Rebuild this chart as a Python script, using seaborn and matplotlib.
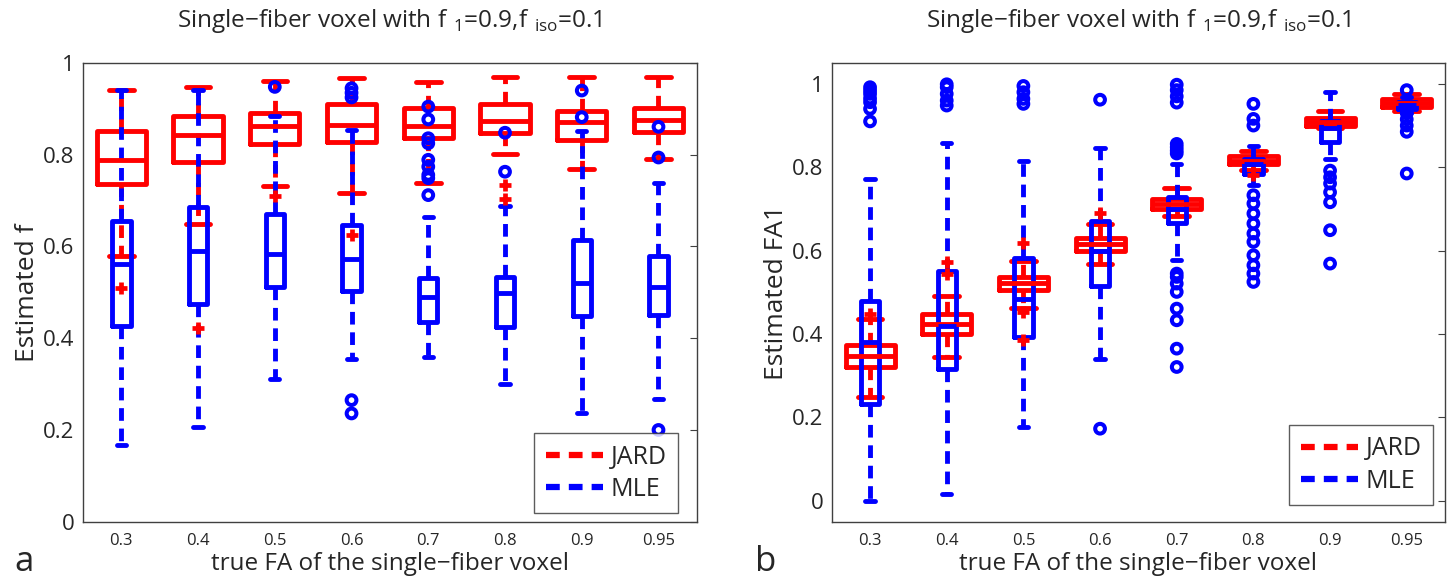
import numpy as np
import pandas as pd
import matplotlib
matplotlib.use("Agg")
import matplotlib.pyplot as plt
from matplotlib.lines import Line2D
import seaborn as sns

# categories (true FA of the single-fiber voxel)
fa_labels = ["0.3", "0.4", "0.5", "0.6", "0.7", "0.8", "0.9", "0.95"]

# panel a: estimated f -- five-number summaries
f_jard_lo = [0.579, 0.648, 0.732, 0.717, 0.739, 0.801, 0.768, 0.791]
f_jard_q1 = [0.736, 0.785, 0.823, 0.828, 0.836, 0.848, 0.832, 0.850]
f_jard_med = [0.789, 0.843, 0.863, 0.865, 0.862, 0.874, 0.872, 0.876]
f_jard_q3 = [0.852, 0.884, 0.892, 0.910, 0.903, 0.911, 0.896, 0.901]
f_jard_hi = [0.942, 0.947, 0.960, 0.967, 0.959, 0.969, 0.970, 0.970]
f_jard_out = [[0.509], [0.422], [0.709], [0.624], [], [0.734, 0.703], [], []]

f_mle_lo = [0.167, 0.207, 0.310, 0.355, 0.360, 0.300, 0.236, 0.267]
f_mle_q1 = [0.427, 0.475, 0.512, 0.504, 0.436, 0.425, 0.448, 0.451]
f_mle_med = [0.562, 0.590, 0.584, 0.573, 0.489, 0.498, 0.521, 0.511]
f_mle_q3 = [0.656, 0.685, 0.670, 0.647, 0.531, 0.533, 0.614, 0.579]
f_mle_hi = [0.941, 0.941, 0.884, 0.855, 0.665, 0.688, 0.852, 0.739]
f_mle_out = [[], [], [0.948], [0.945, 0.935, 0.925, 0.265, 0.236],
             [0.905, 0.877, 0.836, 0.825, 0.789, 0.774, 0.756, 0.749, 0.712],
             [0.848, 0.763], [0.940, 0.882], [0.861, 0.794, 0.200]]

# panel b: estimated FA1
fa_jard_lo = [0.248, 0.344, 0.463, 0.567, 0.682, 0.793, 0.893, 0.936]
fa_jard_q1 = [0.320, 0.401, 0.505, 0.599, 0.701, 0.807, 0.900, 0.944]
fa_jard_med = [0.347, 0.425, 0.522, 0.617, 0.713, 0.816, 0.909, 0.955]
fa_jard_q3 = [0.373, 0.449, 0.538, 0.630, 0.725, 0.826, 0.919, 0.964]
fa_jard_hi = [0.437, 0.491, 0.574, 0.665, 0.751, 0.840, 0.936, 0.976]
fa_jard_out = [[0.449], [0.573, 0.545], [0.618, 0.453, 0.385], [0.690], [], [0.781], [], []]

fa_mle_lo = [0.000, 0.016, 0.176, 0.341, 0.578, 0.757, 0.820, 0.930]
fa_mle_q1 = [0.233, 0.315, 0.393, 0.515, 0.666, 0.785, 0.860, 0.940]
fa_mle_med = [0.380, 0.420, 0.485, 0.600, 0.700, 0.807, 0.895, 0.950]
fa_mle_q3 = [0.479, 0.551, 0.583, 0.670, 0.729, 0.819, 0.912, 0.957]
fa_mle_hi = [0.771, 0.858, 0.816, 0.845, 0.807, 0.850, 0.980, 0.968]
fa_mle_out = [[0.992, 0.984, 0.976, 0.965, 0.956, 0.940, 0.910],
              [0.999, 0.992, 0.976, 0.960, 0.948],
              [0.995, 0.980, 0.964, 0.952],
              [0.962, 0.173],
              [0.998, 0.985, 0.970, 0.955, 0.856, 0.848, 0.840, 0.833,
               0.545, 0.537, 0.521, 0.501, 0.461, 0.433, 0.365, 0.321],
              [0.952, 0.916, 0.900, 0.733, 0.713, 0.689, 0.665, 0.641,
               0.621, 0.589, 0.565, 0.545, 0.525],
              [0.792, 0.776, 0.761, 0.740, 0.716, 0.649, 0.569],
              [0.985, 0.930, 0.915, 0.900, 0.885, 0.785]]

sns.set_style("white")
plt.rcParams["font.family"] = ["Open Sans", "DejaVu Sans"]
plt.rcParams["mathtext.fontset"] = "custom"
plt.rcParams["mathtext.rm"] = "Open Sans"

DASH = (0, (2.6, 1.6))
LW = 3.5


def summary_frame(lo, q1, med, q3, hi):
    # five values per category -> seaborn's quartiles land exactly on them
    rows = []
    for i, lab in enumerate(fa_labels):
        for v in (lo[i], q1[i], med[i], q3[i], hi[i]):
            rows.append((lab, v))
    return pd.DataFrame(rows, columns=["fa", "val"])


def outlier_frame(out):
    rows = [(lab, v) for lab, vals in zip(fa_labels, out) for v in vals]
    return pd.DataFrame(rows, columns=["fa", "val"])


def draw_boxes(ax, stats, out, color, width, marker):
    sns.boxplot(data=summary_frame(*stats), x="fa", y="val", order=fa_labels,
                ax=ax, width=width, whis=(0, 100), fill=False, color=color,
                linewidth=LW, showfliers=False,
                whiskerprops=dict(linestyle=DASH))
    odf = outlier_frame(out)
    if marker == "o":
        sns.stripplot(data=odf, x="fa", y="val", order=fa_labels, ax=ax,
                      jitter=False, marker="o", size=7, color=color,
                      facecolors="none", edgecolor=color, linewidth=2.9,
                      zorder=4)
    else:
        sns.stripplot(data=odf, x="fa", y="val", order=fa_labels, ax=ax,
                      jitter=False, marker="+", size=9, color=color,
                      linewidth=3.4, zorder=4)


fig = plt.figure(figsize=(14.5, 5.84), dpi=100)
ax1 = fig.add_axes([0.0572, 0.1067, 0.4234, 0.7854])
ax2 = fig.add_axes([0.5736, 0.1067, 0.4230, 0.7854])

panels = [
    (ax1,
     (f_jard_lo, f_jard_q1, f_jard_med, f_jard_q3, f_jard_hi), f_jard_out,
     (f_mle_lo, f_mle_q1, f_mle_med, f_mle_q3, f_mle_hi), f_mle_out,
     "Estimated f", (0, 1), (0.969, 0.018)),
    (ax2,
     (fa_jard_lo, fa_jard_q1, fa_jard_med, fa_jard_q3, fa_jard_hi), fa_jard_out,
     (fa_mle_lo, fa_mle_q1, fa_mle_med, fa_mle_q3, fa_mle_hi), fa_mle_out,
     "Estimated FA1", (-0.05, 1.05), (0.980, 0.036)),
]

yticks = [0, 0.2, 0.4, 0.6, 0.8, 1]
ytick_labels = ["0", "0.2", "0.4", "0.6", "0.8", "1"]

for ax, js, jo, ms, mo, ylab, ylim, leg_anchor in panels:
    draw_boxes(ax, js, jo, "red", 0.64, "+")
    draw_boxes(ax, ms, mo, "blue", 0.24, "o")
    ax.set_ylim(*ylim)
    ax.set_xlim(-0.5, len(fa_labels) - 0.5)
    ax.set_yticks(yticks)
    ax.set_yticklabels(ytick_labels)
    ax.tick_params(axis="y", direction="in", right=True, length=5,
                   labelsize=16, color="#404040", pad=6)
    ax.tick_params(axis="x", length=0, labelsize=12, pad=8)
    for sp in ax.spines.values():
        sp.set_visible(True)
        sp.set_color("#404040")
        sp.set_linewidth(1.0)
    ax.set_xlabel("true FA of the single\u2212fiber voxel", fontsize=17.5,
                  labelpad=2)
    ax.set_ylabel(ylab, fontsize=19, labelpad=2)
    ax.set_title(r"Single$-$fiber voxel with f$\ _{1}$=0.9,f$\ _{\mathrm{iso}}$=0.1",
                 fontsize=17.5, pad=26)
    handles = [Line2D([], [], color="red", lw=4.5, ls=(0, (2.2, 1.45))),
               Line2D([], [], color="blue", lw=4.5, ls=(0, (2.2, 1.45)))]
    leg = ax.legend(handles, ["JARD", "MLE"], loc="lower right",
                    bbox_to_anchor=leg_anchor, fontsize=18, frameon=True,
                    fancybox=False, edgecolor="#333333", handlelength=2.3,
                    borderpad=0.45, labelspacing=0.3, handletextpad=0.3,
                    borderaxespad=0)
    leg.get_frame().set_linewidth(1.0)

fig.text(0.010, 0.022, "a", fontsize=25)
fig.text(0.521, 0.022, "b", fontsize=25)

fig.savefig("out.png", dpi=100)
